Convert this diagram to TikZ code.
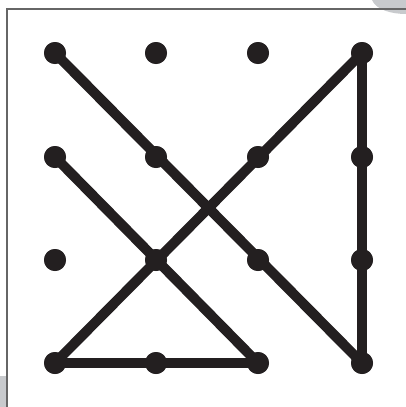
\documentclass[tikz,border=0pt]{standalone}
\usepackage{tikz}
\usetikzlibrary{calc}
\usepackage{xcolor}
\definecolor{ink}{HTML}{231F20}
\definecolor{smudge}{HTML}{C8CACD}

\begin{document}
\begin{tikzpicture}[
    x=1pt, y=-1pt,
    dot/.style={circle, fill=ink, inner sep=0pt, minimum size=22pt},
    stroke/.style={draw=ink, line width=10pt},
    frame/.style={draw=gray!80!black, line width=1.3pt}
]
\useasboundingbox (0,0) rectangle (406,407);

% scan smudges at the corners
\fill[smudge] (372,0) .. controls (376,10) and (392,14) .. (406,14) -- (406,0) -- cycle;
\fill[smudge] (0,376) -- (6,376) -- (6,407) -- (0,407) -- cycle;

% frame
\draw[frame] (7,407) -- (7,9) -- (406,9);

% grid of dots
\foreach \i/\x in {1/55,2/156,3/258,4/362}{
  \foreach \j/\y in {1/53,2/157,3/260,4/363}{
    \node[dot] (d\i\j) at (\x,\y) {};
  }
}

% lines through the dots
\draw[stroke] (d11.center) -- (d44.center);
\draw[stroke] (d12.center) -- (d34.center);
\draw[stroke] (d14.center) -- (d41.center);
\draw[stroke] (d41.center) -- (d44.center);
\draw[stroke] (d14.center) -- (d34.center);

% dots again on top
\foreach \i/\x in {1/55,2/156,3/258,4/362}{
  \foreach \j/\y in {1/53,2/157,3/260,4/363}{
    \fill[ink] (d\i\j) circle (11pt);
  }
}
\end{tikzpicture}
\end{document}
